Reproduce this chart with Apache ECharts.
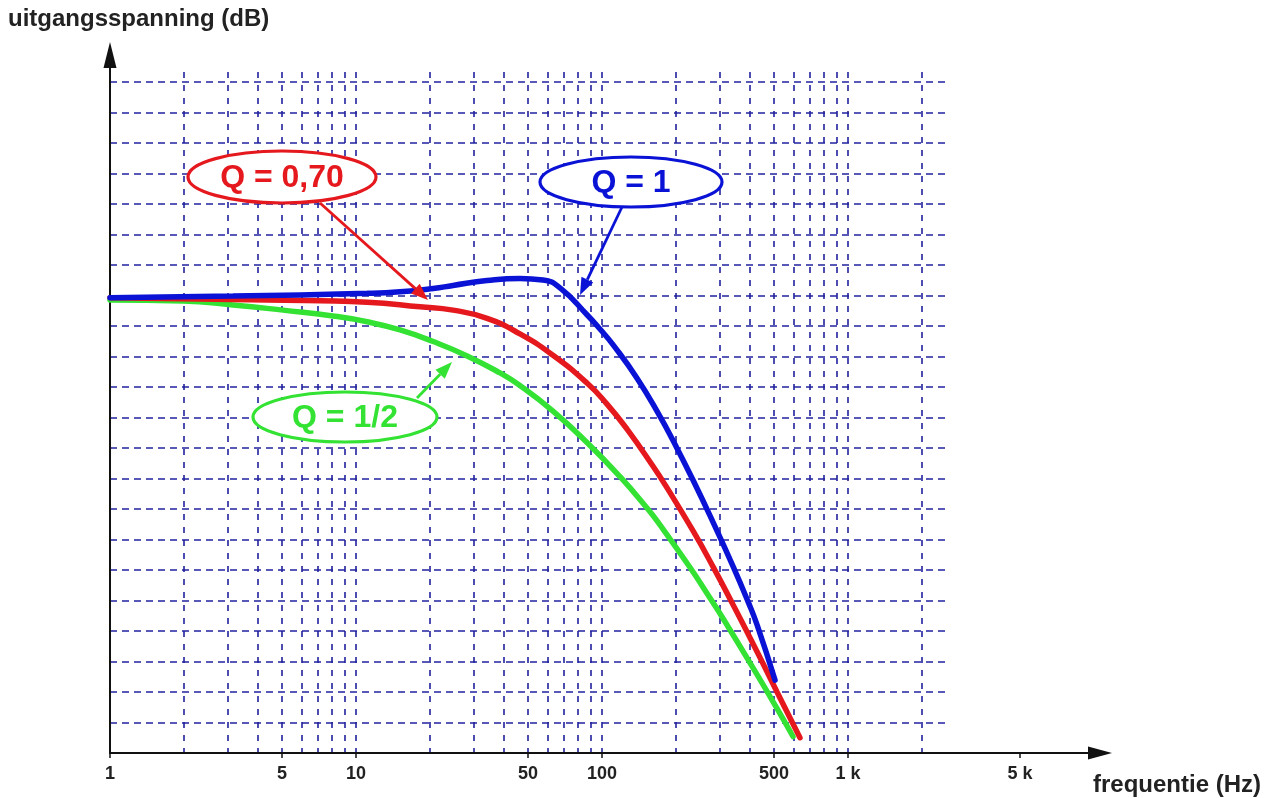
<!DOCTYPE html>
<html>
<head>
<meta charset="utf-8">
<style>
html,body{margin:0;padding:0;background:#fff;}
#chart{width:1276px;height:798px;}
</style>
<script src="https://cdn.jsdelivr.net/npm/echarts@6/dist/echarts.min.js"></script>
</head>
<body>
<div id="chart"></div>
<script>
// ---------- data ----------
const gridFrequencies = [2,3,4,5,6,7,8,9,10,20,30,40,50,60,70,80,90,100,200,300,400,500,600,700,800,900,1000,2000];
const gridLevels = [1,2,3,4,5,6,7,8,9,10,11,12,13,14,15,16,17,18,19,20,21,22];
const tickFrequencies = [1,5,10,50,100,500,1000,5000];
const tickLabels = ['1','5','10','50','100','500','1 k','5 k'];

// Q = 1 (blue)
const q1Freq  = [1, 3.16, 11.1, 15.1, 20.6, 24.8, 34.1, 46.4, 57.5, 67.5, 86.9, 98.1, 110.8, 138.8, 172, 194, 234.6, 282.6, 341, 392, 427, 505];
const q1Level = [14.93, 14.98, 15.07, 15.12, 15.23, 15.33, 15.49, 15.56, 15.51, 15.25, 14.37, 13.90, 13.39, 12.29, 11.04, 10.26, 8.94, 7.57, 6.12, 4.97, 4.20, 2.39];

// Q = 0,70 (red)
const q070Freq  = [1, 4.35, 11.1, 18.2, 24.8, 34.1, 46.4, 63.2, 86.9, 104.8, 126.4, 161, 183.6, 234.6, 282.6, 341, 427, 514, 638];
const q070Level = [14.93, 14.85, 14.78, 14.63, 14.52, 14.25, 13.74, 13.04, 12.13, 11.44, 10.62, 9.41, 8.70, 7.28, 6.11, 4.86, 3.32, 2.01, 0.50];

// Q = 1/2 (green)
const q05Freq  = [1, 1.98, 3.16, 5.05, 8.06, 11.1, 15.1, 20.6, 28.3, 38.5, 46.4, 63.2, 86.9, 118.4, 152.4, 172, 228, 274.8, 310.5, 427, 514.5, 597.6];
const q05Level = [14.85, 14.82, 14.69, 14.52, 14.33, 14.14, 13.87, 13.49, 13.02, 12.46, 12.05, 11.21, 10.18, 9.06, 8.03, 7.48, 6.08, 5.08, 4.41, 2.57, 1.46, 0.54];

// ---------- helpers ----------
function zip(xs, ys) { return xs.map((x, i) => [x, ys[i]]); }
function tickLabel(v) {
  for (let i = 0; i < tickFrequencies.length; i++) {
    if (Math.abs(tickFrequencies[i] - v) / tickFrequencies[i] < 1e-6) return tickLabels[i];
  }
  return '';
}
function arrowGraphics(x1, y1, x2, y2, color) {
  const a = Math.atan2(y2 - y1, x2 - x1);
  const L = 17, W = 6.5;
  const bx = x2 - L * Math.cos(a), by = y2 - L * Math.sin(a);
  return [
    { type: 'line', shape: { x1: x1, y1: y1, x2: bx, y2: by }, style: { stroke: color, lineWidth: 2.8 }, z: 100 },
    { type: 'polygon', shape: { points: [[x2, y2], [bx + W * Math.sin(a), by - W * Math.cos(a)], [bx - W * Math.sin(a), by + W * Math.cos(a)]] }, style: { fill: color }, z: 100 }
  ];
}
function callout(cx, cy, rx, ry, text, color) {
  return [
    { type: 'ellipse', shape: { cx: cx, cy: cy, rx: rx, ry: ry }, style: { fill: '#fff', stroke: color, lineWidth: 3.2 }, z: 100 },
    { type: 'text', x: cx, y: cy + 1, style: { text: text, fill: color, font: 'bold 32px "Liberation Sans", Arial, sans-serif', align: 'center', verticalAlign: 'middle' }, z: 101 }
  ];
}

const RED = '#e5191d', BLUE = '#0a12d6', GREEN = '#33e233';
const GRID_COLOR = '#22229e';
const FONT = '"Liberation Sans", Arial, sans-serif';

const chart = echarts.init(document.getElementById('chart'), null, { renderer: 'canvas' });

const option = {
  animation: false,
  backgroundColor: '#fff',
  title: [
    { text: 'uitgangsspanning (dB)', left: 8, top: 7, padding: 0,
      textStyle: { fontFamily: FONT, fontWeight: 'bold', fontSize: 24, color: '#222' } },
    { text: 'frequentie (Hz)', left: 1093, top: 773, padding: 0,
      textStyle: { fontFamily: FONT, fontWeight: 'bold', fontSize: 24, color: '#222' } }
  ],
  grid: [
    { left: 110, top: 72, width: 835, height: 681 },
    { left: 110, top: 55, width: 990, height: 698 }
  ],
  xAxis: [
    { type: 'log', logBase: 10, gridIndex: 0, min: 1, max: Math.pow(10, 835 / 246),
      axisLine: { show: false },
      axisTick: { show: false, customValues: gridFrequencies },
      axisLabel: { show: false },
      splitLine: { show: true, lineStyle: { color: GRID_COLOR, width: 1.6, type: [6, 7] } } },
    { type: 'log', logBase: 10, gridIndex: 1, min: 1, max: Math.pow(10, 990 / 246),
      axisLine: { show: true, symbol: ['none', 'triangle'], symbolSize: [13, 24],
        lineStyle: { color: '#111', width: 2 } },
      axisTick: { show: true, customValues: tickFrequencies, length: 5, lineStyle: { color: '#111', width: 1.5 } },
      axisLabel: { show: true, customValues: tickFrequencies, formatter: tickLabel, margin: 12,
        fontFamily: FONT, fontWeight: 'bold', fontSize: 18, color: '#222' },
      splitLine: { show: false } }
  ],
  yAxis: [
    { type: 'value', gridIndex: 0, min: 0, max: 681 / 30.5,
      axisLine: { show: false },
      axisTick: { show: false, customValues: gridLevels },
      axisLabel: { show: false },
      splitLine: { show: true, lineStyle: { color: GRID_COLOR, width: 1.6, type: [7, 5] } } },
    { type: 'value', gridIndex: 1, min: 0, max: 698 / 30.5,
      axisLine: { show: true, symbol: ['none', 'triangle'], symbolSize: [13, 26],
        lineStyle: { color: '#111', width: 2 } },
      axisTick: { show: false },
      axisLabel: { show: false },
      splitLine: { show: false } }
  ],
  series: [
    { name: 'Q = 1/2', type: 'line', xAxisIndex: 0, yAxisIndex: 0, data: zip(q05Freq, q05Level),
      symbol: 'none', smooth: 0.5, silent: true, z: 3,
      lineStyle: { color: GREEN, width: 5.5, cap: 'round' } },
    { name: 'Q = 0,70', type: 'line', xAxisIndex: 0, yAxisIndex: 0, data: zip(q070Freq, q070Level),
      symbol: 'none', smooth: 0.5, silent: true, z: 4,
      lineStyle: { color: RED, width: 5.5, cap: 'round' } },
    { name: 'Q = 1', type: 'line', xAxisIndex: 0, yAxisIndex: 0, data: zip(q1Freq, q1Level),
      symbol: 'none', smooth: 0.5, silent: true, z: 5,
      lineStyle: { color: BLUE, width: 5.5, cap: 'round' } }
  ],
  graphic: [].concat(
    arrowGraphics(320, 203, 428, 300, RED),
    callout(282, 177, 94, 26, 'Q = 0,70', RED),
    arrowGraphics(622, 207, 580, 295, BLUE),
    callout(631, 182, 91, 25, 'Q = 1', BLUE),
    arrowGraphics(417, 398, 452, 362, GREEN),
    callout(345, 417, 92, 25, 'Q = 1/2', GREEN)
  )
};
chart.setOption(option);
</script>
</body>
</html>
